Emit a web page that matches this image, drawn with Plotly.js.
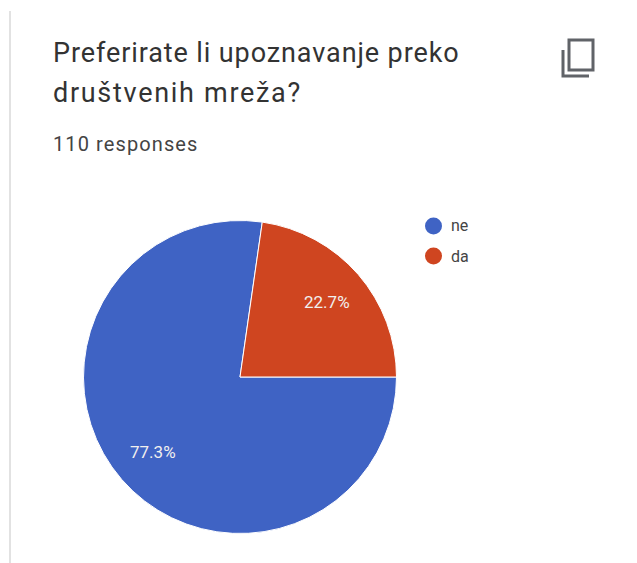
<!DOCTYPE html>
<html>
<head>
<meta charset="utf-8">
<script src="https://cdn.plot.ly/plotly-3.0.1.min.js"></script>
<style>
html,body{margin:0;padding:0;background:#fff}#chart{width:637px;height:563px}
.annotation[data-index="0"] .annotation-text{letter-spacing:.9px}
.annotation[data-index="1"] .annotation-text{letter-spacing:1.7px}
.annotation[data-index="2"] .annotation-text{letter-spacing:1.1px}
</style>
</head>
<body>
<div id="chart"></div>
<script>
const categories = ["ne", "da"];
const responses = [85, 25];
const sliceColors = ["#3f63c4", "#cf4520"];
const titleLines = ["Preferirate li upoznavanje preko", "društvenih mreža?"];
const subtitle = "110 responses";

const W = 637, H = 563;
const px = x => x / W, py = y => 1 - y / H;
const FONT = "Roboto, sans-serif";
const CX = 240, CY = 377, R = 156.5, START_DEG = 90, LABEL_R = 0.735;

const trace = {
  type: "pie",
  labels: categories,
  values: responses,
  sort: false,
  direction: "clockwise",
  rotation: START_DEG,
  marker: {colors: sliceColors, line: {color: "#ffffff", width: 1}},
  textinfo: "none",
  domain: {x: [px(CX - R), px(CX + R)], y: [py(CY + R), py(CY - R)]},
  showlegend: false,
  hoverinfo: "label+percent"
};

const text = (x, y, t, size, color, anchor) => ({
  xref: "paper", yref: "paper", x: px(x), y: py(y), text: t, showarrow: false,
  xanchor: anchor || "left", yanchor: "middle", align: anchor || "left",
  font: {family: FONT, size, color}
});
const annotations = [
  text(51, 53, titleLines[0], 27, "#333333"),
  text(51, 93, titleLines[1], 27, "#333333"),
  text(51, 144, subtitle, 20, "#444444")
];
const legendY = [226, 256];
categories.forEach((c, i) => annotations.push(text(449, legendY[i], c, 16, "#444444")));

const total = responses.reduce((a, b) => a + b, 0);
let cumulative = 0;
responses.forEach(v => {
  const frac = v / total;
  const angle = (START_DEG + (cumulative + frac / 2) * 360) * Math.PI / 180;
  cumulative += frac;
  annotations.push(text(CX + R * LABEL_R * Math.sin(angle), CY - R * LABEL_R * Math.cos(angle),
    (frac * 100).toFixed(1) + "%", 17, "#f1efee", "center"));
});

const shapes = [
  {type: "line", xref: "paper", yref: "paper", x0: px(10), x1: px(10), y0: py(11), y1: py(563),
   line: {color: "#e2e2e2", width: 2}},
  {type: "rect", xref: "paper", yref: "paper", x0: px(569), x1: px(593), y0: py(40), y1: py(70),
   line: {color: "#606368", width: 3}},
  {type: "path", xref: "paper", yref: "paper",
   path: `M ${px(563)} ${py(50)} L ${px(563)} ${py(76)} L ${px(589)} ${py(76)}`,
   line: {color: "#606368", width: 3}}
];
categories.forEach((c, i) => shapes.push({
  type: "circle", xref: "paper", yref: "paper",
  x0: px(425), x1: px(442), y0: py(legendY[i] - 8.5), y1: py(legendY[i] + 8.5),
  fillcolor: sliceColors[i], line: {width: 0}
}));

Plotly.newPlot("chart", [trace], {
  width: W, height: H,
  margin: {l: 0, r: 0, t: 0, b: 0},
  paper_bgcolor: "#ffffff",
  annotations, shapes
}, {displayModeBar: false});
</script>
</body>
</html>
